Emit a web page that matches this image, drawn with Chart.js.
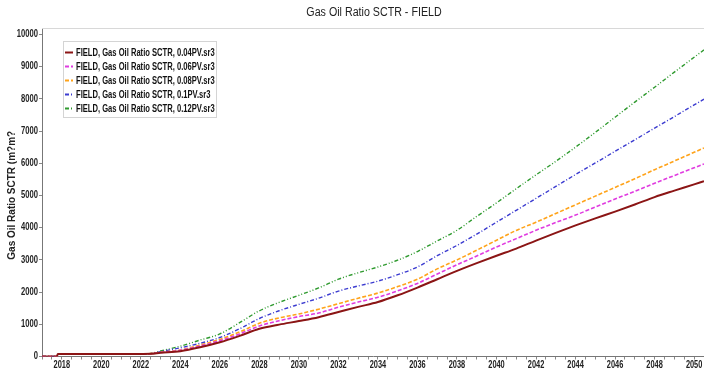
<!DOCTYPE html>
<html>
<head>
<meta charset="utf-8">
<script src="https://cdn.jsdelivr.net/npm/chart.js@4.4.1/dist/chart.umd.min.js"></script>
<style>
  html, body { margin: 0; padding: 0; background: #fff; }
  #wrap { position: relative; width: 704px; height: 373px; }
</style>
</head>
<body>
<div id="wrap"><canvas id="gorChart" width="704" height="373"></canvas></div>
<script>
var years = [2017, 2017.75, 2017.8, 2019, 2020, 2021, 2022, 2022.5, 2023, 2024, 2025, 2026, 2027, 2028, 2029,
  2030, 2031, 2032, 2033, 2034, 2035, 2036, 2037, 2038, 2039, 2040, 2041, 2042, 2043, 2044, 2045, 2046,
  2047, 2048, 2049, 2050, 2050.5];

var gor004 = [0, 0, 75, 75, 75, 75, 80, 85, 115, 165, 285, 440, 640, 860, 990,
  1100, 1220, 1380, 1540, 1690, 1900, 2140, 2400, 2660, 2900, 3130, 3350, 3600, 3840, 4070, 4290, 4500,
  4720, 4950, 5150, 5345, 5445];
var gor006 = [0, 0, 75, 75, 75, 75, 80, 87, 125, 190, 325, 490, 700, 950, 1110,
  1240, 1350, 1530, 1690, 1840, 2040, 2270, 2560, 2850, 3120, 3400, 3660, 3920, 4160, 4390, 4640, 4890,
  5130, 5380, 5620, 5860, 5980];
var gor008 = [0, 0, 75, 75, 75, 75, 80, 88, 130, 200, 355, 530, 760, 1030, 1200,
  1320, 1470, 1640, 1810, 1970, 2170, 2400, 2720, 3000, 3300, 3610, 3915, 4170, 4440, 4710, 4980, 5250,
  5520, 5800, 6070, 6340, 6475];
var gor010 = [0, 0, 75, 75, 75, 75, 80, 90, 150, 270, 410, 590, 860, 1180, 1420,
  1620, 1810, 2030, 2190, 2340, 2540, 2780, 3130, 3450, 3800, 4170, 4540, 4910, 5280, 5650, 6010, 6370,
  6730, 7090, 7450, 7810, 7990];
var gor012 = [0, 0, 75, 75, 75, 75, 80, 95, 170, 320, 510, 700, 1050, 1420, 1680,
  1900, 2130, 2400, 2600, 2780, 2990, 3260, 3590, 3920, 4350, 4770, 5210, 5640, 6060, 6500, 6960, 7430,
  7900, 8360, 8830, 9290, 9520];

var seriesLabels = [
  'FIELD, Gas Oil Ratio SCTR, 0.04PV.sr3',
  'FIELD, Gas Oil Ratio SCTR, 0.06PV.sr3',
  'FIELD, Gas Oil Ratio SCTR, 0.08PV.sr3',
  'FIELD, Gas Oil Ratio SCTR, 0.1PV.sr3',
  'FIELD, Gas Oil Ratio SCTR, 0.12PV.sr3'
];
var yTickValues = [0, 1000, 2000, 3000, 4000, 5000, 6000, 7000, 8000, 9000, 10000];
var xTickYears = [2018, 2020, 2022, 2024, 2026, 2028, 2030, 2032, 2034, 2036, 2038, 2040, 2042, 2044, 2046, 2048, 2050];
var chartTitle = 'Gas Oil Ratio SCTR - FIELD';
var yTitle = 'Gas Oil Ratio SCTR (m?m?';

var FONT = '"Liberation Sans", Arial, sans-serif';

function pts(vals){
  return vals.map(function(v, i){ return { x: years[i], y: v }; });
}

var styles = [
  { color: '#8b1515', width: 2, dash: [] },
  { color: '#e03ce0', width: 1.6, dash: [4, 2] },
  { color: '#ffa31a', width: 1.6, dash: [4, 2] },
  { color: '#3c3cd0', width: 1.4, dash: [4, 2, 1, 2] },
  { color: '#2f9a2f', width: 1.4, dash: [4, 2, 1, 2, 1, 2] }
];
var values = [gor004, gor006, gor008, gor010, gor012];

var datasets = values.map(function(v, i){
  return {
    label: seriesLabels[i],
    data: pts(v),
    borderColor: styles[i].color,
    backgroundColor: styles[i].color,
    borderWidth: styles[i].width,
    borderDash: styles[i].dash,
    pointRadius: 0,
    cubicInterpolationMode: 'monotone',
    fill: false
  };
});

// narrow text: regular glyphs squeezed horizontally
function narrowText(ctx, text, x, y, sx, align){
  ctx.save();
  ctx.translate(x, y);
  ctx.scale(sx, 1);
  ctx.textAlign = align || 'left';
  ctx.fillText(text, 0, 0);
  ctx.restore();
}

// title, tick labels, top frame line and boxed legend drawn on the canvas
var decor = {
  id: 'decor',
  afterDraw: function(chart){
    var ctx = chart.ctx, a = chart.chartArea;
    var xs = chart.scales.x, ys = chart.scales.y;
    ctx.save();
    ctx.strokeStyle = '#d8d8d8';
    ctx.lineWidth = 1;
    ctx.beginPath();
    ctx.moveTo(a.left, a.top + 0.5);
    ctx.lineTo(a.right, a.top + 0.5);
    ctx.stroke();

    ctx.fillStyle = '#222';
    ctx.textBaseline = 'middle';
    ctx.font = '12px ' + FONT;
    narrowText(ctx, chartTitle, 374, 13, 0.89, 'center');

    ctx.font = 'bold 10px ' + FONT;
    yTickValues.forEach(function(v){
      narrowText(ctx, String(v), a.left - 4, ys.getPixelForValue(v), 0.76, 'right');
    });
    xTickYears.forEach(function(v){
      narrowText(ctx, String(v), xs.getPixelForValue(v), 365, 0.74, 'center');
    });

    ctx.save();
    ctx.translate(12, (a.top + a.bottom) / 2 + 3);
    ctx.rotate(-Math.PI / 2);
    ctx.textAlign = 'center';
    ctx.font = 'bold 10px ' + FONT;
    ctx.fillText(yTitle, 0, 0);
    ctx.restore();

    // legend box
    var lx = 63, ly = 41, lw = 153, lh = 76;
    ctx.fillStyle = '#fff';
    ctx.fillRect(lx, ly, lw, lh);
    ctx.strokeStyle = '#d4d4d4';
    ctx.strokeRect(lx + 0.5, ly + 0.5, lw, lh);
    ctx.font = 'bold 10px ' + FONT;
    chart.data.datasets.forEach(function(ds, i){
      var y = ly + 11 + i * 14;
      ctx.strokeStyle = ds.borderColor;
      ctx.lineWidth = 2;
      ctx.setLineDash(ds.borderDash.length ? ds.borderDash : []);
      ctx.beginPath();
      ctx.moveTo(lx + 2, y + 0.5);
      ctx.lineTo(lx + 10, y + 0.5);
      ctx.stroke();
      ctx.setLineDash([]);
      ctx.fillStyle = '#111';
      narrowText(ctx, ds.label, lx + 13, y + 1, 0.76, 'left');
    });
    ctx.restore();
  }
};

new Chart(document.getElementById('gorChart').getContext('2d'), {
  type: 'line',
  data: { datasets: datasets },
  options: {
    responsive: false,
    animation: false,
    layout: { padding: { top: 28, right: 0, left: 0, bottom: 0 } },
    plugins: {
      legend: { display: false },
      title: { display: false },
      tooltip: { enabled: false }
    },
    scales: {
      x: {
        type: 'linear',
        min: 2017,
        max: 2050.5,
        afterFit: function(s){ s.height = 16.5; },
        afterBuildTicks: function(s){
          var t = [];
          for (var v = 2017; v <= 2050.5; v += 0.5) t.push({ value: v });
          s.ticks = t;
        },
        border: { color: '#777', width: 1 },
        grid: { drawOnChartArea: false, drawTicks: true, tickLength: 3, color: '#888' },
        ticks: { display: false }
      },
      y: {
        min: 0,
        max: 10200,
        afterFit: function(s){ s.width = 42; },
        afterBuildTicks: function(s){
          s.ticks = yTickValues.map(function(v){ return { value: v }; });
        },
        border: { color: '#777', width: 1 },
        grid: { drawOnChartArea: false, drawTicks: true, tickLength: 3, color: '#888' },
        ticks: { display: false }
      }
    }
  },
  plugins: [decor]
});
</script>
</body>
</html>
